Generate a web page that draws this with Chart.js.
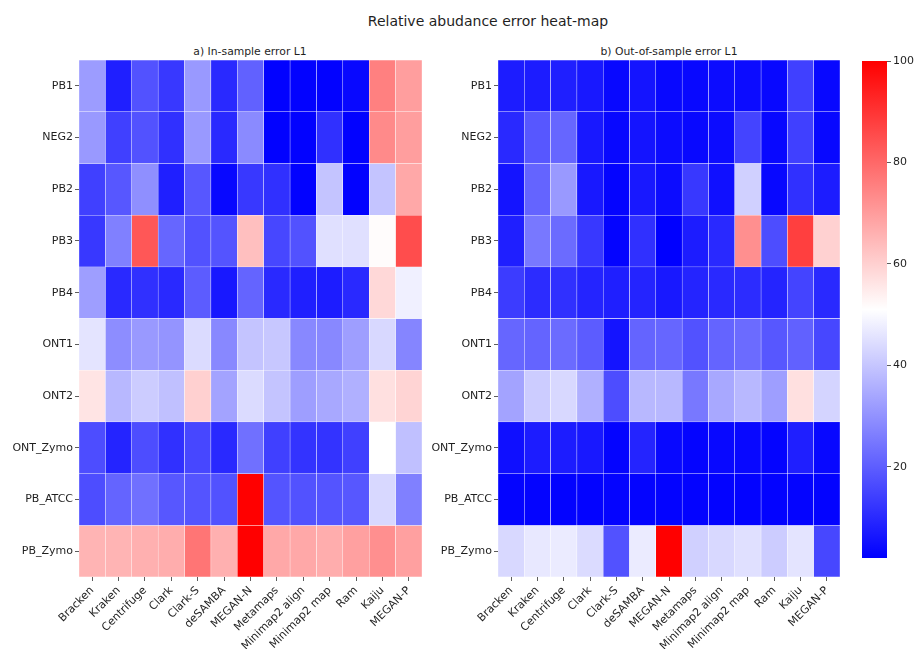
<!DOCTYPE html>
<html>
<head>
<meta charset="utf-8">
<script src="https://cdn.jsdelivr.net/npm/chart.js@4"></script>
<style>
  html, body { margin: 0; padding: 0; background: #fff; }
  body { width: 919px; height: 649px; position: relative; overflow: hidden;
         font-family: 'DejaVu Sans', sans-serif; color: #1f1f1f; }
  .box { position: absolute; }
  .txt { position: absolute; white-space: nowrap; text-align: center; }
</style>
</head>
<body>
<div class="txt" style="left:288px;top:14px;width:400px;font-size:14px;line-height:14px;">Relative abudance error heat-map</div>
<div class="txt" style="left:150px;top:46px;width:200px;font-size:10.8px;line-height:11px;">a) In-sample error L1</div>
<div class="txt" style="left:569px;top:46px;width:200px;font-size:10.8px;line-height:11px;">b) Out-of-sample error L1</div>
<div class="box" style="left:0;top:50px;width:432px;height:599px;"><canvas id="inSample"></canvas></div>
<div class="box" style="left:420px;top:50px;width:430px;height:599px;"><canvas id="outSample"></canvas></div>
<div class="box" style="left:862px;top:51px;width:57px;height:517px;"><canvas id="cbar"></canvas></div>

<script>
// Classifiers (columns) and samples (rows)
const methods = ['Bracken', 'Kraken', 'Centrifuge', 'Clark', 'Clark-S', 'deSAMBA', 'MEGAN-N',
                 'Metamaps', 'Minimap2 align', 'Minimap2 map', 'Ram', 'Kaiju', 'MEGAN-P'];
const samples = ['PB1', 'NEG2', 'PB2', 'PB3', 'PB4', 'ONT1', 'ONT2', 'ONT_Zymo', 'PB_ATCC', 'PB_Zymo'];

// a) In-sample L1 error, one row per sample
const inPB1     = [32.0, 7.9, 17.7, 12.8, 31.4, 9.8, 20.6, 2.3, 2.3, 2.3, 3.5, 75.5, 69.6];
const inNEG2    = [31.4, 14.3, 17.7, 11.3, 31.4, 9.8, 28.5, 2.3, 2.3, 11.3, 2.3, 73.5, 69.6];
const inPB2     = [14.3, 18.7, 29.4, 7.9, 18.7, 3.5, 12.8, 11.3, 2.3, 39.7, 2.3, 39.7, 67.7];
const inPB3     = [12.8, 26.5, 83.3, 21.6, 17.7, 18.2, 63.3, 15.7, 17.7, 45.1, 45.1, 51.5, 85.3];
const inPB4     = [32.4, 9.8, 11.3, 9.8, 19.6, 6.6, 21.2, 9.8, 7.9, 7.4, 9.8, 58.4, 48.1];
const inONT1    = [45.8, 29.0, 31.4, 30.4, 44.1, 28.2, 39.6, 40.2, 28.2, 28.2, 32.4, 43.6, 27.5];
const inONT2    = [56.2, 37.3, 41.2, 38.8, 60.0, 33.4, 44.1, 39.6, 32.4, 34.3, 35.8, 56.9, 59.2];
const inONTZymo = [16.7, 8.9, 16.7, 11.3, 15.7, 9.8, 23.6, 14.3, 11.8, 11.8, 14.3, 51.0, 38.8];
const inPBATCC  = [16.7, 21.2, 23.6, 18.7, 18.2, 17.7, 100, 18.2, 17.7, 18.2, 18.7, 43.6, 26.5];
const inPBZymo  = [65.4, 65.4, 66.2, 66.7, 77.5, 66.2, 100, 67.7, 67.7, 66.7, 69.2, 72.6, 69.2];

// b) Out-of-sample L1 error, one row per sample
const outPB1     = [7.4, 7.4, 7.9, 6.6, 3.5, 5.9, 3.5, 3.5, 4.4, 4.4, 3.5, 14.3, 3.5];
const outNEG2    = [9.8, 18.7, 21.6, 6.6, 3.5, 5.9, 4.4, 3.5, 4.4, 15.0, 3.5, 14.3, 3.5];
const outPB2     = [5.9, 21.2, 31.4, 6.6, 2.8, 6.6, 4.4, 12.8, 5.0, 42.0, 3.5, 11.3, 7.4];
const outPB3     = [7.9, 25.0, 22.6, 12.8, 2.8, 11.3, 2.0, 7.4, 9.8, 72.6, 16.7, 87.8, 59.8];
const outPB4     = [13.6, 10.4, 11.3, 8.9, 7.9, 8.9, 6.6, 8.9, 9.8, 10.4, 8.9, 15.0, 9.8];
const outONT1    = [21.6, 21.2, 22.6, 19.6, 5.9, 21.2, 21.6, 17.7, 21.2, 22.6, 18.7, 20.6, 15.7];
const outONT2    = [33.4, 41.2, 43.6, 35.8, 16.7, 37.3, 37.3, 25.0, 34.3, 37.3, 32.4, 56.9, 42.8];
const outONTZymo = [4.9, 7.4, 7.4, 6.6, 2.8, 8.9, 3.5, 2.8, 3.5, 3.5, 2.8, 7.9, 3.5];
const outPBATCC  = [2.8, 2.8, 2.5, 2.5, 2.8, 2.8, 2.5, 2.5, 2.5, 2.5, 2.5, 2.8, 2.5];
const outPBZymo  = [43.6, 46.6, 47.1, 44.1, 17.7, 47.1, 100, 42.0, 43.6, 45.1, 41.2, 45.8, 15.7];

// Colour scale limits and colour-bar ticks
const colorMin = 2;
const colorMax = 100;
const colorTicks = [20, 40, 60, 80, 100];

const inSample  = [inPB1, inNEG2, inPB2, inPB3, inPB4, inONT1, inONT2, inONTZymo, inPBATCC, inPBZymo];
const outSample = [outPB1, outNEG2, outPB2, outPB3, outPB4, outONT1, outONT2, outONTZymo, outPBATCC, outPBZymo];

// Blue-white-red diverging colour map
function bwr(v) {
  const t = Math.min(1, Math.max(0, (v - colorMin) / (colorMax - colorMin)));
  let r, g, b;
  if (t < 0.5) { r = g = 2 * t; b = 1; } else { r = 1; g = b = 2 * (1 - t); }
  return `rgb(${Math.round(r * 255)},${Math.round(g * 255)},${Math.round(b * 255)})`;
}

Chart.defaults.font.family = "'DejaVu Sans', sans-serif";
Chart.defaults.font.size = 11;
Chart.defaults.color = '#1f1f1f';

const tickGrid = { drawOnChartArea: false, drawTicks: true, tickLength: 4, color: '#333', lineWidth: 0.8 };

function heatmap(id, values, yAxisWidth) {
  return new Chart(document.getElementById(id), {
    type: 'bar',
    data: {
      labels: methods,
      datasets: samples.map((name, r) => ({
        label: name,
        data: values[r].map(() => [r, r + 1]),
        backgroundColor: values[r].map(bwr),
        borderColor: 'rgba(255,255,255,0.75)',
        borderWidth: 0.5,
        borderSkipped: false,
        grouped: false,
        categoryPercentage: 1,
        barPercentage: 1
      }))
    },
    options: {
      responsive: true,
      maintainAspectRatio: false,
      animation: false,
      layout: { padding: { top: 10, right: 10, left: 0, bottom: 0 } },
      plugins: { legend: { display: false }, tooltip: { enabled: false } },
      scales: {
        x: {
          type: 'category',
          offset: true,
          grid: Object.assign({ offset: false }, tickGrid),
          border: { display: false },
          ticks: { minRotation: 45, maxRotation: 45, autoSkip: false, padding: 3 },
          afterFit: s => { s.height = 72; }
        },
        y: {
          type: 'linear',
          min: 0,
          max: samples.length,
          reverse: true,
          afterBuildTicks: s => { s.ticks = samples.map((_, i) => ({ value: i + 0.5 })); },
          ticks: { autoSkip: false, padding: 2, callback: v => samples[Math.floor(v)] },
          grid: tickGrid,
          border: { display: false },
          afterFit: s => { s.width = yAxisWidth; }
        }
      }
    }
  });
}

heatmap('inSample', inSample, 79);
heatmap('outSample', outSample, 78);

// Colour bar
new Chart(document.getElementById('cbar'), {
  type: 'bar',
  data: {
    labels: [''],
    datasets: [{
      data: [[colorMin, colorMax]],
      backgroundColor: ctx => {
        const chart = ctx.chart;
        const y = chart.scales.y;
        if (!chart.chartArea || !y) return '#ffffff';
        const g = chart.ctx.createLinearGradient(0, y.getPixelForValue(colorMin), 0, y.getPixelForValue(colorMax));
        g.addColorStop(0, '#0000ff');
        g.addColorStop(0.5, '#ffffff');
        g.addColorStop(1, '#ff0000');
        return g;
      },
      borderWidth: 0,
      categoryPercentage: 1,
      barPercentage: 1
    }]
  },
  options: {
    responsive: true,
    maintainAspectRatio: false,
    animation: false,
    layout: { padding: { top: 10, bottom: 10, left: 0, right: 0 } },
    plugins: { legend: { display: false }, tooltip: { enabled: false } },
    scales: {
      x: { display: false },
      y: {
        position: 'right',
        min: colorMin,
        max: colorMax,
        afterBuildTicks: s => { s.ticks = colorTicks.map(v => ({ value: v })); },
        ticks: { padding: 2 },
        grid: tickGrid,
        border: { display: false },
        afterFit: s => { s.width = 32; }
      }
    }
  }
});
</script>
</body>
</html>
